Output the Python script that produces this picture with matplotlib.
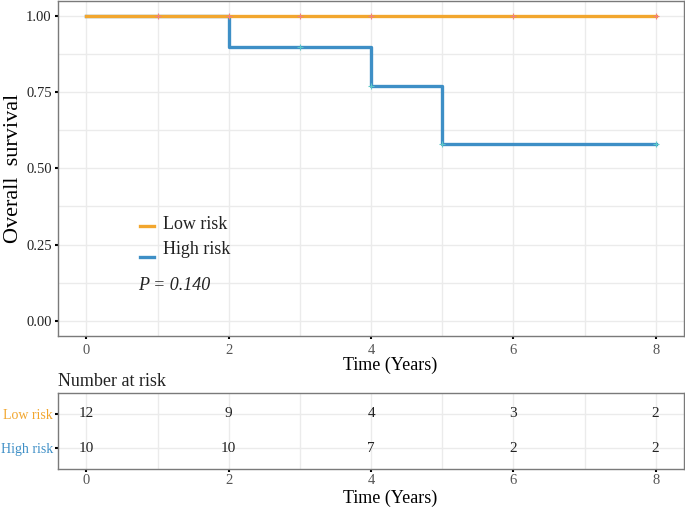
import matplotlib.pyplot as plt
import numpy as np

plt.rcParams['font.family'] = ['Liberation Serif', 'DejaVu Serif']

# survival step data
low_t = [0, 8]
low_s = [1.0, 1.0]
high_t = [0, 2, 4, 5, 8]
high_s = [1.0, 0.9, 0.77, 0.58, 0.58]

# censor marks
low_cens_t = [1, 2, 3, 4, 6, 8]
low_cens_s = [1.0, 1.0, 1.0, 1.0, 1.0, 1.0]
high_cens_t = [3, 4, 5, 8]
high_cens_s = [0.9, 0.77, 0.58, 0.58]

# number at risk table
risk_times = [0, 2, 4, 6, 8]
risk_low = [12, 9, 4, 3, 2]
risk_high = [10, 10, 7, 2, 2]
groups = ['Low risk', 'High risk']

c_low = '#F2A62E'
c_high = '#3E8FC6'
frame = '#7a7a7a'
grid = '#ebebeb'

fig = plt.figure(figsize=(6.85, 5.12), dpi=100)
ax = fig.add_axes([0.0847, 0.344, 0.914, 0.654])
rt = fig.add_axes([0.0847, 0.084, 0.914, 0.148])

# --- survival curves
ax.step(high_t, high_s, where='post', color=c_high, lw=2.4, zorder=3)
ax.step(low_t, low_s, where='post', color=c_low, lw=2.4, zorder=4)
ax.plot(low_cens_t, low_cens_s, '+', color='#F08080', ms=4, mew=0.8, zorder=5)
ax.plot(high_cens_t, high_cens_s, '+', color='#5CC8C8', ms=4, mew=0.8, zorder=5)

ax.set_xlim(-0.4, 8.4)
ax.set_ylim(-0.05, 1.05)
ax.set_xticks([0, 2, 4, 6, 8])
ax.set_xticks([1, 3, 5, 7], minor=True)
ax.set_yticks([0, 0.25, 0.5, 0.75, 1.0])
ax.set_yticks([0.125, 0.375, 0.625, 0.875], minor=True)
ax.set_yticklabels(['0.00', '0.25', '0.50', '0.75', '1.00'])
ax.grid(True, which='both', color=grid, lw=1.0, zorder=0)
ax.set_axisbelow(True)
for s in ax.spines.values():
    s.set_color(frame)
    s.set_linewidth(1.0)
ax.tick_params(axis='both', which='major', length=2.5, width=1.5, color='black', labelsize=10.5)
ax.tick_params(axis='both', which='minor', length=0)
ax.tick_params(axis='x', labelcolor='#555555', pad=3)
ax.tick_params(axis='y', labelcolor='#222222', pad=2)
ax.set_xlabel('Time (Years)', fontsize=13, labelpad=0, x=0.53)
ax.set_ylabel('Overall  survival', fontsize=16, labelpad=2)

# legend and p value
ax.plot([0.75, 0.95], [0.31, 0.31], color=c_low, lw=2.4)
ax.plot([0.75, 0.95], [0.21, 0.21], color=c_high, lw=2.4)
ax.text(1.07, 0.315, 'Low risk', fontsize=13, va='center', ha='left', color='#222222')
ax.text(1.07, 0.235, 'High risk', fontsize=13, va='center', ha='left', color='#222222')
ax.text(0.73, 0.115, 'P = 0.140', fontsize=13, style='italic', va='center', ha='left',
        color='#222222')

# --- risk table
for i, vals in enumerate([risk_low, risk_high]):
    yv = 2 - i
    for t, v in zip(risk_times, vals):
        rt.text(t, yv, str(v), ha='center', va='center', fontsize=11, color='#222222')

rt.set_xlim(-0.4, 8.4)
rt.set_ylim(0.4, 2.6)
rt.set_xticks([0, 2, 4, 6, 8])
rt.set_xticks([1, 3, 5, 7], minor=True)
rt.set_yticks([2, 1])
rt.set_yticklabels(groups)
for lab, c in zip(rt.get_yticklabels(), [c_low, c_high]):
    lab.set_color(c)
rt.grid(True, which='major', color=grid, lw=1.0, zorder=0)
rt.grid(True, which='minor', axis='x', color=grid, lw=1.0, zorder=0)
rt.set_axisbelow(True)
for s in rt.spines.values():
    s.set_color(frame)
    s.set_linewidth(1.0)
rt.tick_params(axis='both', which='major', length=2.5, width=1.5, color='black', labelsize=10.5)
rt.tick_params(axis='y', labelsize=10, pad=1)
rt.tick_params(axis='both', which='minor', length=0)
rt.tick_params(axis='x', labelcolor='#555555', pad=1)
rt.set_xlabel('Time (Years)', fontsize=13, labelpad=2, x=0.53)
rt.set_title('Number at risk', fontsize=13, loc='left', x=0.0, pad=5, color='#222222')

fig.savefig('out.png', dpi=100)
